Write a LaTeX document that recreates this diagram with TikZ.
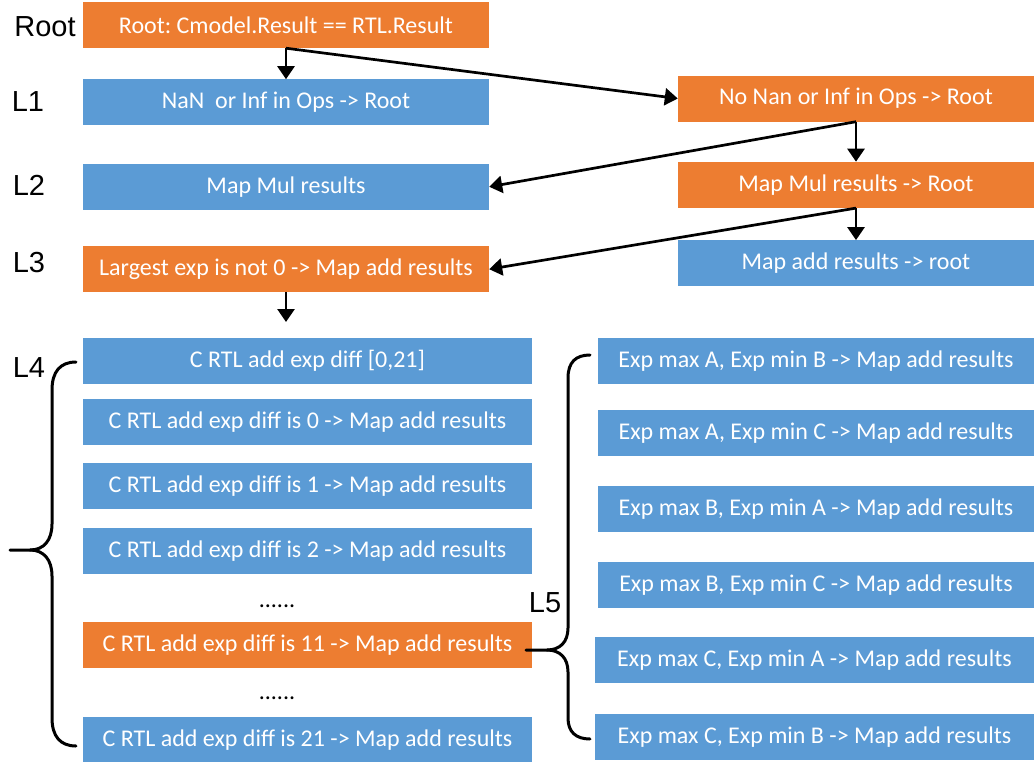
\documentclass[tikz,border=0pt]{standalone}
\usepackage{fontspec}
\setmainfont{Carlito}
\newfontfamily\levelfont{Liberation Sans}
\usetikzlibrary{arrows.meta, positioning}
\definecolor{boxorange}{HTML}{ED7D31}
\definecolor{boxblue}{HTML}{5B9BD5}
\frenchspacing

\begin{document}
\begin{tikzpicture}[x=1pt, y=-1pt, node distance=16pt]
    \tikzstyle{block} = [rectangle, text=white, inner sep=0pt, minimum height=46pt, font=\fontsize{24}{28}\selectfont]
    \tikzstyle{bluebox} = [block, fill=boxblue]
    \tikzstyle{orangebox} = [block, fill=boxorange]
    \tikzstyle{line} = [draw, line width=2.7pt, -{Triangle[width=17pt,length=13pt]}]
    \tikzstyle{brace} = [draw, line width=3pt, line cap=round]
    \tikzstyle{level} = [font=\levelfont\fontsize{29}{32}\selectfont]

    \useasboundingbox (0,0) rectangle (1034,761);

    % level labels
    \node[level] (lroot) at (45,27) {Root};
    \node[level] (lone) at (28,102) {L1};
    \node[level] (ltwo) at (29,185) {L2};
    \node[level] (lthree) at (29,263) {L3};
    \node[level] (lfour) at (29,368) {L4};
    \node[level] (lfive) at (545,603) {L5};

    % left column
    \node[orangebox, minimum width=406pt] (root) at (286,25) {Root: Cmodel.Result == RTL.Result};
    \node[bluebox, minimum width=406pt, below=31pt of root] (nan) {NaN\ \ or Inf in Ops -> Root};
    \node[bluebox, minimum width=406pt, below=38pt of nan] (mul) {Map Mul results};
    \node[orangebox, minimum width=406pt, below=36pt of mul] (largest) {Largest exp is not 0 -> Map add results};

    % right column
    \node[orangebox, minimum width=356pt] (nonan) at (856,98.5) {No Nan or Inf in Ops -> Root};
    \node[orangebox, minimum width=356pt, below=40pt of nonan] (mulr) {Map Mul results -> Root};
    \node[bluebox, minimum width=356pt, below=32pt of mulr] (addr) {Map add results -> root};

    % L4: exp diff
    \node[bluebox, minimum width=449pt] (diffrange) at (307.5,361) {C RTL add exp diff [0,21]};
    \node[bluebox, minimum width=449pt, below=15pt of diffrange] (diffzero) {C RTL add exp diff is 0 -> Map add results};
    \node[bluebox, minimum width=449pt, below=17pt of diffzero] (diffone) {C RTL add exp diff is 1 -> Map add results};
    \node[bluebox, minimum width=449pt, below=19pt of diffone] (difftwo) {C RTL add exp diff is 2 -> Map add results};
    \node[anchor=base, font=\fontsize{24}{28}\selectfont] (dotsa) at (277,607) {......};
    \node[orangebox, minimum width=449pt] (diffeleven) at (307.5,645) {C RTL add exp diff is 11 -> Map add results};
    \node[anchor=base, font=\fontsize{24}{28}\selectfont] (dotsb) at (277,699) {......};
    \node[bluebox, minimum width=449pt] (difftwentyone) at (307.5,740) {C RTL add exp diff is 21 -> Map add results};

    % L5: exp max / min
    \node[bluebox, minimum width=436pt] (maxab) at (816,361) {Exp max A, Exp min B -> Map add results};
    \node[bluebox, minimum width=436pt, below=26pt of maxab] (maxac) {Exp max A, Exp min C -> Map add results};
    \node[bluebox, minimum width=436pt, below=29pt of maxac] (maxba) {Exp max B, Exp min A -> Map add results};
    \node[bluebox, minimum width=436pt, below=30pt of maxba] (maxbc) {Exp max B, Exp min C -> Map add results};
    \node[bluebox, minimum width=439pt] (maxca) at (814.5,660) {Exp max C, Exp min A -> Map add results};
    \node[bluebox, minimum width=439pt] (maxcb) at (814.5,737) {Exp max C, Exp min B -> Map add results};

    % arrows
    \coordinate (lfourin) at (286,322);
    \path [line] (root.south) -- (nan.north);
    \path [line] (root.south) -- (nonan.west);
    \path [line] (nonan.south) -- (mulr.north);
    \path [line] (nonan.south) -- (mul.east);
    \path [line] (mulr.south) -- (addr.north);
    \path [line] (mulr.south) -- (largest.east);
    \path [line] (largest.south) -- (lfourin);

    % braces
    \path [brace] (76,362) .. controls (60,362) and (52,372) .. (52,390) -- (52,524) .. controls (52,540) and (44,550) .. (30,550) -- (10,550);
    \path [brace] (30,550) .. controls (44,550) and (52,560) .. (52,576) -- (52,718) .. controls (52,736) and (60,746) .. (76,746);
    \path [brace] (526,650) -- (547,650) .. controls (560,650) and (568,642) .. (568,628) -- (568,378) .. controls (568,362) and (576,355) .. (590,355);
    \path [brace] (547,650) .. controls (560,650) and (568,658) .. (568,672) -- (568,718) .. controls (568,732) and (576,739) .. (590,739);
\end{tikzpicture}
\end{document}
